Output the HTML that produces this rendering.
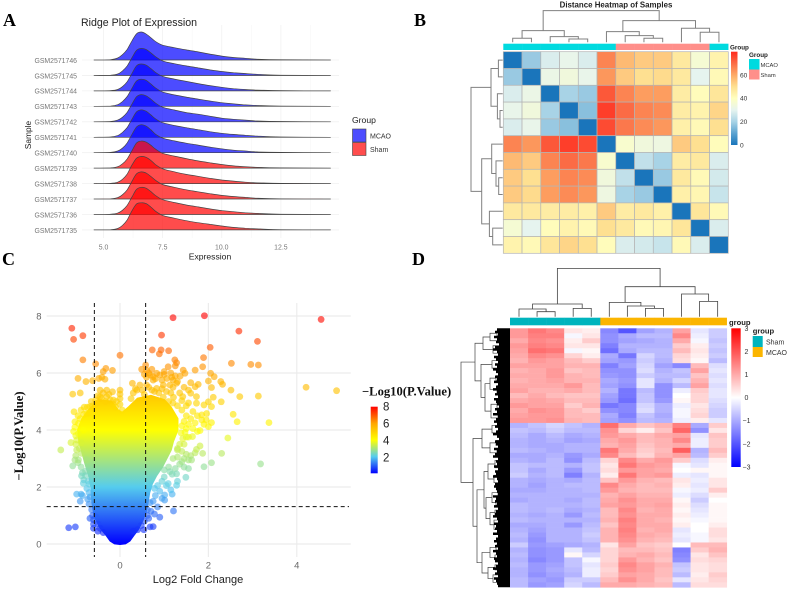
<!DOCTYPE html>
<html lang="en">
<head>
<meta charset="utf-8">
<title>Expression analysis figure</title>
<style>
html,body{margin:0;padding:0;background:#fff;}
svg{display:block;font-family:"Liberation Sans",sans-serif;}
.panel{font-family:"Liberation Serif",serif;font-weight:bold;font-size:18px;fill:#000;}
.serif{font-family:"Liberation Serif",serif;font-weight:bold;}
</style>
</head>
<body>
<svg id="fig" width="790" height="591" viewBox="0 0 790 591" xmlns="http://www.w3.org/2000/svg">
<defs>
<linearGradient id="volcGrad" gradientUnits="userSpaceOnUse" x1="0" x2="0" y1="544" y2="316"></linearGradient>
<linearGradient id="volcBar" x1="0" x2="0" y1="1" y2="0"></linearGradient>
<linearGradient id="distBar" x1="0" x2="0" y1="1" y2="0"></linearGradient>
<linearGradient id="exprBar" x1="0" x2="0" y1="1" y2="0">
<stop offset="0" stop-color="#0000ff"/><stop offset="0.5" stop-color="#ffffff"/><stop offset="1" stop-color="#ff0000"/>
</linearGradient>
</defs>
<rect width="790" height="591" fill="#fff"/>

<text class="panel" x="3" y="26">A</text>
<text class="panel" x="414" y="26">B</text>
<text class="panel" x="2" y="265">C</text>
<text class="panel" x="412" y="265">D</text>

<g id="ridge">
<g id="ridgeGrid"></g>
<g id="ridgeMarks"></g>
<g id="ridgeLabels" font-size="6.9" fill="#777"></g>
<text x="81" y="26" font-size="10.6" fill="#222">Ridge Plot of Expression</text>
<text x="210" y="259.5" font-size="8.6" fill="#222" text-anchor="middle">Expression</text>
<text transform="translate(31,135) rotate(-90)" font-size="8.4" fill="#222" text-anchor="middle">Sample</text>
<text x="352" y="123" font-size="8.6" fill="#222">Group</text>
<rect x="352.5" y="129" width="13.5" height="13" fill="#4d4dff" stroke="#444" stroke-width="0.6"/>
<rect x="352.5" y="142.5" width="13.5" height="13" fill="#ff4d4d" stroke="#444" stroke-width="0.6"/>
<text x="370" y="138.5" font-size="7" fill="#333">MCAO</text>
<text x="370" y="152" font-size="7" fill="#333">Sham</text>
</g>

<g id="dist">
<text x="616" y="7.5" font-size="7.9" font-weight="bold" fill="#222" text-anchor="middle">Distance Heatmap of Samples</text>
<g id="distTopTree" fill="none" stroke="#808080" stroke-width="1"></g>
<g id="distLeftTree" fill="none" stroke="#808080" stroke-width="1"></g>
<g id="distAnno"></g>
<g id="distCells"></g>
<text x="730" y="49.5" font-size="6.3" font-weight="bold" fill="#222">Group</text>
<rect x="731" y="51.7" width="6.5" height="93.3" fill="url(#distBar)"/>
<g id="distBarLabels" font-size="6.6" fill="#333"></g>
<text x="749" y="57" font-size="6.3" font-weight="bold" fill="#222">Group</text>
<rect x="749" y="59" width="10.5" height="10.5" fill="#00dadf"/>
<rect x="749" y="69.5" width="10.5" height="10" fill="#ff8f8a"/>
<text x="760.5" y="67" font-size="5.8" fill="#333">MCAO</text>
<text x="760.5" y="77" font-size="5.8" fill="#333">Sham</text>
</g>

<g id="volc">
<g id="volcGrid"></g>
<g id="volcCloud"></g>
<g id="volcPoints"></g>
<g id="volcRefs" stroke="#111" stroke-width="1" stroke-dasharray="4 3"></g>
<g id="volcLabels" font-size="9.5" fill="#666"></g>
<text x="198" y="583" font-size="11" fill="#222" text-anchor="middle">Log2 Fold Change</text>
<text class="serif" transform="translate(23,436) rotate(-90)" font-size="12.6" fill="#111" text-anchor="middle">−Log10(P.Value)</text>
<text class="serif" x="362" y="395.5" font-size="12.6" fill="#111">−Log10(P.Value)</text>
<rect x="370.7" y="406.7" width="7" height="66.6" fill="url(#volcBar)"/>
<g id="volcBarLabels" font-size="11.5" fill="#222"></g>
</g>

<g id="expr">
<g id="exprTopTree" fill="none" stroke="#444" stroke-width="0.8"></g>
<g id="exprLeftTree" fill="none" stroke="#444" stroke-width="0.7"></g>
<g id="exprComb"></g>
<g id="exprAnno"></g>
<g id="exprCells"></g>
<text x="729" y="325" font-size="7.6" font-weight="bold" fill="#222">group</text>
<rect x="731.3" y="328.3" width="9.4" height="138.7" fill="url(#exprBar)"/>
<g id="exprBarLabels" font-size="7" fill="#333"></g>
<text x="752.7" y="333.5" font-size="7.6" font-weight="bold" fill="#222">group</text>
<rect x="752.7" y="336" width="10" height="11" fill="#00b4bd"/>
<rect x="752.7" y="347" width="10" height="10" fill="#fbb500"/>
<text x="766" y="344.5" font-size="7" fill="#333">Sham</text>
<text x="766" y="355" font-size="7" fill="#333">MCAO</text>
</g>
</svg>

<script>
/* ---------- Ridge plot data ---------- */
const sampleNames = ["GSM2571746","GSM2571745","GSM2571744","GSM2571743","GSM2571742","GSM2571741","GSM2571740","GSM2571739","GSM2571738","GSM2571737","GSM2571736","GSM2571735"];
const sampleGroups = ["MCAO","MCAO","MCAO","MCAO","MCAO","MCAO","MCAO","Sham","Sham","Sham","Sham","Sham"];
const ridgeGridX = [4.6,5.3,5.6,5.8,6,6.2,6.4,6.6,6.8,7,7.2,7.5,8,8.5,9,9.5,10,10.5,11,11.5,12.5,14.6];
const ridgeTicksX = [5,7.5,10,12.5];
const ridgeTickLabels = ["5.0","7.5","10.0","12.5"];
const ridgeDensity = [
[0,.01,.07,.19,.38,.68,.94,1,.93,.8,.66,.53,.44,.36,.29,.21,.14,.09,.06,.03,.01,0],
[0,.01,.05,.16,.34,.63,.9,.97,.93,.81,.67,.52,.42,.34,.27,.2,.14,.1,.07,.04,.01,0],
[0,.01,.05,.15,.33,.62,.9,.96,.92,.8,.66,.52,.42,.34,.26,.19,.13,.08,.05,.03,.01,0],
[0,.01,.06,.17,.35,.64,.91,.97,.93,.8,.66,.51,.41,.33,.26,.19,.13,.09,.05,.03,.01,0],
[0,.01,.06,.16,.34,.63,.9,.97,.93,.81,.67,.52,.42,.33,.27,.2,.13,.09,.06,.03,.01,0],
[0,.01,.06,.17,.35,.64,.91,.98,.93,.8,.66,.52,.42,.34,.27,.2,.14,.1,.07,.04,.01,0],
[0,.01,.06,.16,.35,.65,.92,1,.95,.82,.66,.52,.42,.34,.27,.2,.14,.09,.06,.03,.01,0],
[0,.01,.05,.15,.33,.62,.9,.97,.93,.82,.68,.53,.43,.34,.26,.19,.13,.08,.05,.03,.01,0],
[0,.01,.05,.15,.34,.66,.91,.97,.94,.83,.68,.53,.42,.33,.26,.19,.13,.09,.05,.03,.01,0],
[0,.01,.05,.15,.33,.63,.9,.97,.93,.81,.67,.52,.42,.33,.26,.19,.13,.09,.06,.03,.01,0],
[0,.01,.05,.15,.33,.62,.9,.97,.94,.82,.68,.53,.43,.34,.27,.2,.14,.1,.06,.04,.01,0],
[0,.01,.05,.16,.36,.68,.93,.97,.94,.82,.67,.52,.42,.33,.26,.2,.14,.09,.06,.04,.01,0]
];

/* ---------- Sample distance heatmap data ---------- */
const distValues = [
[0,18,28,31,28,66,57,54,54,47,36,44],
[18,0,32,34,31,63,54,50,51,47,30,42],
[28,32,0,20,18,73,66,62,62,46,41,48],
[31,34,20,0,16,77,70,66,65,46,44,52],
[28,31,18,16,0,75,68,65,63,45,42,50],
[66,63,73,77,75,0,37,34,33,54,50,41],
[57,54,66,70,68,37,0,24,20,46,47,28],
[54,50,62,66,65,34,24,0,18,47,42,27],
[54,51,62,65,63,33,20,18,0,45,43,25],
[47,47,46,46,45,54,46,47,45,0,48,42],
[36,30,41,44,42,50,47,42,43,48,0,28],
[44,42,48,52,50,41,28,27,25,42,28,0]
];
const distAnnotation = ["MCAO","MCAO","MCAO","MCAO","MCAO","MCAO","Sham","Sham","Sham","Sham","Sham","MCAO"];
const distStops = [0,10,20,30,40,50,60,70,80];
const distColors = ["#1a75bb","#5ba3d0","#a8d3e6","#e6f4ef","#ffffc0","#fee091","#fdaa66","#fb6b45","#ff2a1e"];
const distBarTicks = [0,20,40,60];
const distTopMerge = [31.7,[11.7,[4,0,1],[5.7,2,[3.3,3,4]]],[21.7,[10.7,5,[6.7,6,[4,7,8]]],[14,9,[10,10,11]]]];
const distLeftMerge = [31.7,[11.7,[4.3,0,1],[5.3,2,[2.7,3,4]]],[21,[11,5,[6.7,6,[4,7,8]]],[13.3,9,[10,10,11]]]];

/* ---------- Volcano plot data ---------- */
const volcFC = [-1.09,-1.05,-.84,-.84,-.55,0,1.2,1.91,4.55,.94,2.69,3.11,2.04,.73,.93,1.1,.89,1.89,1.24,1.28,2.52,2.96,3.13,1.87,1.09,1.25,.58,.49,.6,.72,1.7,1.43,-.17,-.32,-.38,2.05,2.13,-.95,-.77,-.62,-.48,-.41,-.34,2,2.28,2.32,1.6,1.7,1.77,2.07,2.51,4.21,4.9,3.13,2.71,2.29,2.11,-1.07,-.9,-1.04,-.81,2.56,2.65,3.37,2.44,2.3,3.18,2.07,1.9,1.87,-1.34,-1.11,-1.07,-.87,-.83,-.98,-.88,-.9,-.73,-1.16,-1.01,.75,.54,.9,1.21,1.18,1.01,1.01,1.09,1.28,1.49,1.28,1.13,1.55,1.4,1.62,1.81,1.73,1.64,1.47,1.81,2,2.07,1.96,1.85,1.73,2,2.07,1.9,1.73,1.6,1.42,1.4,1.21,.98,.38,.6,.72,.83,.98,1.13,1.28,.45,.28,.9,.75,1.06,1.17,1.36,1.47,.83,.68,-.45,-.3,-.17,0,0,-.45,-.3,-.53,-.15,-.68,-.75,-.9,-.94,-.83,-.94,-1.02,-.98,-.94,-.87,-.75,-.7,-.78,-.85,1.3,1.45,1.5,1.3,1.15,.95,.85,.78,-.68,-.6,.62,.68];
const volcLogP = [7.57,7.18,7.31,6.46,6.32,6.62,7.94,8.01,7.88,7.33,7.47,7.11,6.9,6.81,6.81,6.78,6.67,6.54,6.46,6.36,6.34,6.3,6.28,6.22,6.22,6.25,6.28,6.13,6.1,6.13,6.1,6.1,6.09,6.16,6.05,5.99,5.87,5.81,5.7,5.73,5.81,5.85,5.78,5.72,5.7,5.6,5.66,5.52,5.6,5.49,5.4,5.5,5.38,5.19,5.17,4.99,5.15,5.26,5.3,4.64,4.8,4.55,4.29,4.26,3.72,3.18,2.81,2.85,2.71,3.18,3.3,3.56,2.74,2.39,2.13,1.75,1.75,1.5,1.57,.57,.6,.61,.5,.94,1.16,1.75,1.72,1.54,2.12,2.06,2.34,2.46,2.54,2.65,2.89,2.95,3.44,3.32,3.77,3.92,3.98,4.12,4.26,4.58,4.53,4.94,4.99,4.82,4.88,5.17,5.29,5.17,5.03,5.15,5.15,5.4,5.58,5.4,5.46,5.58,5.58,5.64,5.58,5.64,5.93,5.87,5.81,5.85,5.89,5.99,5.99,5.93,5.4,5.4,5.34,5.4,5.26,5.17,5.17,4.94,5.05,4.82,4.58,4.4,4.23,3.99,3.87,4.29,3.3,2.95,3.18,2.95,2.1,2.4,1.7,3.3,3,3.75,2.2,1.9,1.6,1.3,1.05,.9,.7,1.0,.6];
const volcEdgeFC = [-.95,-.88,-.82,-.74,-.7,-.65,-.62,-.55,-.5,-.42,-.38,-.33,-.25,-.22,-.15,-.1,-.08,0,0,.05,-1.02,-1,-.98,-1.05,-1,-.92,-.88,-1,-.95,-1.02,-.88,-.85,-.78,-.82,-.72,-.75,-.7,-.68,-.7,-.64,-.62,-.6,-.55,-.5,-.45,-.6,-.5,-.38,.35,.25,.3,.5,.55,.65,.78,.88,.95,1.05,1.15,1.2,1.35,1.45,1.55,.75,.8,.95,1,1.2,1.25,1.3,.6,.65,.55,1,1.15,1.1,1.2,1.3,1.4,1.5,1.55,1.5,1.6,1.45,1.55,1.7,1.75,1.65,1.85,1.4,1.5,1.65,1.75,1.9,1.95,1.38,1.42,1.55,1.35,1.45,1.3,1.4,1.5,1.6,1.7,1.55,1.3,1.2,1.35,1.45,1.25,1.1,1,1.18,1,.95,1.05,.85,.9,.78,.8,.75,.68,.62,.7,.65,.55,.48,.4,.3];
const volcEdgeLogP = [4.5,4.7,4.55,4.8,4.6,5,4.85,5.05,5.2,5.1,5.3,5,5.25,5.05,4.9,4.8,5,5.1,4.9,4.7,4.1,3.8,3.65,3.95,3.5,3.35,3.55,3.1,2.85,2.95,2.7,2.5,2.55,2.25,2.2,1.95,1.8,1.65,1.4,1.2,1,.85,.95,.7,.55,.55,.45,.4,5.45,5.1,5.3,5.4,5.25,5.5,5.35,5.3,5.45,5.35,5.3,5.5,5.3,5.5,5.4,5.75,5.8,5.75,5.95,5.75,5.9,5.7,5.85,6,5.95,6.05,6,5,4.95,4.85,4.7,4.85,4.95,4.5,4.4,4.3,4.2,4.25,4.5,4.65,4.35,4.15,4.05,4.05,3.95,4.2,4.35,3.9,3.7,3.75,3.5,3.5,3.35,3.25,3.15,3.1,3.2,2.95,3.05,3,2.8,2.7,2.65,2.7,2.6,2.45,2.35,2.2,2.05,2.05,1.85,1.95,1.7,1.5,1.45,1.2,1.15,.9,.8,.65,.5,.45];
const volcCloudX = [0,.12,.22,.3,.4,.5,.58,.62,.66,.72,.82,.95,1.05,1.15,1.2,1.3,1.3,1.15,1,.7,.4,.2,.05,-.05,-.2,-.5,-.7,-.85,-.95,-.92,-.85,-.78,-.7,-.65,-.63,-.58,-.46,-.3,-.22,-.12];
const volcCloudY = [0,.02,.12,.3,.5,.8,1.1,1.4,1.8,2.1,2.4,2.7,3,3.3,3.6,4,4.4,4.8,5.05,5.2,5.1,4.8,4.6,4.7,5,5.05,4.7,4.4,4,3.6,3.2,2.8,2.4,2,1.5,1,.6,.3,.12,.02];
const volcStops = [0,2,4,6,8];
const volcColors = ["#0000ff","#55ccee","#ffff00","#ffa500","#ff0000"];
const volcTicksX = [0,2,4];
const volcTicksY = [0,2,4,6,8];
const volcBarTicks = [2,4,6,8];
const volcThresholdFC = [-0.58,0.58];
const volcThresholdP = [1.31];

/* ---------- Expression heatmap data (log2 scale x10, one row per gene band) ---------- */
const exprValues = [
[12,16,14,3,2,-14,-20,-11,-9,11,-3,-6],
[12,15,15,-1,3,-13,-10,-8,-8,14,-2,-6],
[10,14,13,2,6,-13,-11,-10,-9,10,-1,-7],
[12,15,14,3,3,-15,-9,-9,-9,6,2,-6],
[11,17,16,-1,1,-17,-10,-8,-8,8,3,-7],
[10,14,13,5,2,-10,-16,-5,-8,5,2,-6],
[9,12,11,8,6,-11,-12,-6,-9,4,1,-8],
[11,11,11,9,9,-15,-11,-5,-11,-14,8,-4],
[9,10,12,7,8,-13,-13,-4,-9,-7,11,-3],
[10,10,12,9,8,-12,-13,-6,-8,-8,7,-4],
[9,10,11,9,9,-10,-12,-3,-9,-5,9,-3],
[10,10,10,12,8,-11,-13,-3,-13,-8,11,-4],
[11,9,9,10,8,-9,-16,-8,-13,-2,6,-3],
[8,10,8,7,7,-11,-16,-7,-13,0,5,-3],
[10,11,10,8,8,-12,-17,-7,-12,1,5,-4],
[12,11,11,6,9,-16,-14,-5,-9,-2,3,-5],
[10,13,12,8,6,-13,-14,-4,-9,-1,4,-6],
[11,12,12,8,8,-10,-15,-7,-10,-1,5,-6],
[12,12,13,9,8,-11,-13,-8,-9,-2,2,-3],
[-9,-7,-5,-7,-9,17,10,7,9,15,-10,6],
[-7,-8,-6,-8,-8,13,5,2,7,18,-13,3],
[-8,-10,-8,-10,-9,12,10,8,10,11,-3,7],
[-9,-10,-9,-11,-10,10,12,8,9,14,-2,6],
[-9,-10,-10,-9,-9,9,11,7,9,10,-2,6],
[-8,-9,-10,-9,-9,16,10,6,8,19,-9,8],
[-10,-10,-9,-12,-10,14,8,5,9,11,-8,6],
[-9,-10,-8,-13,-8,5,14,10,12,6,-4,2],
[-7,-8,-8,-9,-7,3,16,12,11,-1,-3,1],
[-7,-10,-8,-12,-7,4,12,11,10,0,1,1],
[-6,-9,-8,-15,-9,2,16,11,12,-2,-3,1],
[-9,-10,-9,-10,-8,7,12,9,8,3,-2,3],
[-9,-11,-9,-8,-8,14,10,8,9,2,-3,3],
[-10,-10,-9,-9,-8,12,9,8,8,-1,-2,6],
[-9,-9,-9,-9,-9,9,11,9,9,-2,-4,2],
[-10,-9,-9,-10,-8,10,13,10,10,1,-6,0],
[-8,-9,-9,-9,-8,11,12,10,11,2,-4,1],
[-8,-9,-8,-10,-9,8,14,9,10,1,-3,1],
[-9,-10,-9,-12,-8,8,13,10,10,2,-2,1],
[-8,-9,-9,-9,-9,9,15,10,9,1,-1,1],
[-10,-10,-9,-12,-8,7,14,10,10,2,0,2],
[-9,-11,-9,-9,-7,9,15,9,10,-3,0,4],
[-8,-12,-9,-9,-6,9,14,10,9,-2,-1,4],
[-9,-13,-9,-9,-7,9,13,9,8,-3,-1,3],
[-6,-12,-11,-10,-9,3,11,7,6,0,8,8],
[-9,-13,-12,-3,-8,5,8,8,7,-15,6,9],
[-8,-13,-12,1,-5,5,9,10,8,-14,3,7],
[-9,-14,-12,-7,-1,5,12,9,7,-13,4,5],
[-8,-12,-11,-7,-3,6,14,11,9,-7,3,4],
[-9,-12,-10,-8,-2,5,13,11,8,-6,3,4],
[-9,-13,-11,-9,-2,6,11,10,8,-8,2,6],
[-8,-11,-12,-6,-6,8,13,10,7,-3,3,5],
[-8,-12,-11,-5,-8,10,10,9,8,-8,4,4]
];
const exprAnnotation = ["Sham","Sham","Sham","Sham","Sham","MCAO","MCAO","MCAO","MCAO","MCAO","MCAO","MCAO"];
const exprBarTicks = [3,2,1,0,-1,-2,-3];
const exprLeafDepth = [13,15,12,16,13,14,11,15,17,13,12,16,14,12,15,13,17,14,12,15,13,16,12,14,17,13,15,12,16,14,13,11,15,13,17,12,14,16,13,15,12,14,17,13,11,15,14,12,16,13,15,17,12,14,13,16,12,15,14,17,13,12,15,16,14,13,12,17,14,15,13,16,12,14,15,17,13,12,16,14,15,13,17,12,14,16,13,15,12,17,14,13,16,15,12,14,17,13,15,12,16,14,13,12];
const exprTopMerge = [48.3,[12.7,[7.7,0,[5,1,2]],[8.3,3,4]],[30,[14.3,5,[10.7,6,[8.3,7,8]]],[22.7,9,[15.3,10,11]]]];
const exprLeftMerge = [49,
 [35,
  [27,[20,[13,0,1],2],[17,3,[11,4,5]]],
  [29,[18,6,[12,7,8]],[25,[20,[14,9,10],[13,11,[9,12,13]]],[19,[13,14,[9,15,16]],[12,17,18]]]]],
 [37,
  [28,[18,19,[12,20,21]],[20,[14,22,23],[13,24,25]]],
  [33,
   [26,[22,[15,26,[10,27,28]],[16,29,[11,30,31]]],[24,[18,[12,32,33],[14,34,35]],[20,[15,36,37],[16,38,[12,39,[9,40,[7,41,42]]]]]]],
   [28,[20,[14,43,44],[15,45,46]],[22,[15,47,48],[17,49,[12,50,51]]]]]]];

/* ---------- Helpers ---------- */
const NS = "http://www.w3.org/2000/svg";
const $ = id => document.getElementById(id);
function add(parent, tag, attrs){
  const el = document.createElementNS(NS, tag);
  for (const k in attrs) el.setAttribute(k, attrs[k]);
  parent.appendChild(el);
  return el;
}
function hex(c){ return [parseInt(c.slice(1,3),16),parseInt(c.slice(3,5),16),parseInt(c.slice(5,7),16)]; }
function ramp(stops, colors, v){
  if (v <= stops[0]) return colors[0];
  for (let i = 1; i < stops.length; i++){
    if (v <= stops[i]){
      const t = (v - stops[i-1]) / (stops[i] - stops[i-1]);
      const a = hex(colors[i-1]), b = hex(colors[i]);
      return "rgb(" + a.map((x,j) => Math.round(x + (b[j]-x)*t)).join(",") + ")";
    }
  }
  return colors[colors.length-1];
}
function gradient(id, stops, colors){
  const g = $(id), lo = stops[0], hi = stops[stops.length-1];
  stops.forEach((s,i) => add(g, "stop", {offset:(s-lo)/(hi-lo), "stop-color":colors[i]}));
}
function smoothPath(xs, ys){
  let d = "M" + xs[0].toFixed(1) + " " + ys[0].toFixed(1);
  for (let i = 0; i < xs.length - 1; i++){
    const i0 = Math.max(i-1,0), i3 = Math.min(i+2,xs.length-1);
    const c1x = xs[i] + (xs[i+1]-xs[i0])/6, c1y = ys[i] + (ys[i+1]-ys[i0])/6;
    const c2x = xs[i+1] - (xs[i3]-xs[i])/6, c2y = ys[i+1] - (ys[i3]-ys[i])/6;
    d += "C" + c1x.toFixed(1) + " " + c1y.toFixed(1) + " " + c2x.toFixed(1) + " " + c2y.toFixed(1) + " " + xs[i+1].toFixed(1) + " " + ys[i+1].toFixed(1);
  }
  return d + "Z";
}
function drawTree(node, g, pos, ht, horizontalRoot, name){
  if (typeof node === "number") return {p:pos(node), h:0};
  const l = drawTree(node[1], g, pos, ht, horizontalRoot, name);
  const r = drawTree(node[2], g, pos, ht, horizontalRoot, name);
  const d = horizontalRoot
    ? "M"+l.p+" "+ht(l.h)+"V"+ht(node[0])+"H"+r.p+"V"+ht(r.h)
    : "M"+ht(l.h)+" "+l.p+"H"+ht(node[0])+"V"+r.p+"H"+ht(r.h);
  const path = add(g, "path", {d:d});
  
  
  return {p:(l.p+r.p)/2, h:node[0]};
}

/* ---------- A: Ridge plot ---------- */
const rx = v => 103.5 + (v - 5) * 23.65;
const ry = i => 60 + i * 15.45;
const ridgeH = 28;
[6.25,8.75,11.25,13.75].forEach(v => {
  const line = add($("ridgeGrid"), "line", {x1:rx(v),x2:rx(v),y1:25,y2:238,stroke:"#f7f7f7","stroke-width":0.6});
  
  
});
ridgeTicksX.forEach((v,i) => {
  const line = add($("ridgeGrid"), "line", {x1:rx(v),x2:rx(v),y1:25,y2:238,stroke:"#f1f1f1","stroke-width":0.8});
  
  
  const t = add($("ridgeLabels"), "text", {x:rx(v),y:249.5,"text-anchor":"middle"});
  t.textContent = ridgeTickLabels[i];
  
  
});
sampleNames.forEach((name,i) => {
  const y = ry(i);
  const line = add($("ridgeGrid"), "line", {x1:82,x2:339,y1:y,y2:y,stroke:"#f1f1f1","stroke-width":0.8});
  
  
  const t = add($("ridgeLabels"), "text", {x:77,y:y+2.8,"text-anchor":"end"});
  t.textContent = name;
  
  
  const xs = ridgeGridX.map(rx);
  const ys = ridgeDensity[i].map(d => y - d*ridgeH);
  const fill = sampleGroups[i] === "MCAO" ? "#0000ff" : "#ff0000";
  const area = add($("ridgeMarks"), "path", {d:smoothPath(xs,ys),fill:fill,"fill-opacity":0.7,stroke:"#444","stroke-width":0.7,"stroke-linejoin":"round"});
  
  
});

/* ---------- B: Distance heatmap ---------- */
const bX = i => 503.3 + i * 18.75;
const bY = i => 51.7 + i * 16.8;
gradient("distBar", distStops, distColors);
distValues.forEach((row,r) => row.forEach((v,c) => {
  const cell = add($("distCells"), "rect", {x:bX(c),y:bY(r),width:18.75,height:16.8,fill:ramp(distStops,distColors,v),stroke:"#b4b4b4","stroke-width":0.7});
  
  
}));
distAnnotation.forEach((g,c) => {
  const a = add($("distAnno"), "rect", {x:bX(c),y:43.7,width:18.9,height:6.3,fill:g === "MCAO" ? "#00dadf" : "#ff8f8a"});
  
  
});
distBarTicks.forEach(v => {
  const t = add($("distBarLabels"), "text", {x:740,y:145 - v/80*93.3 + 2.3});
  t.textContent = v;
  
  
});
drawTree(distTopMerge, $("distTopTree"), i => bX(i)+9.4, h => 42.3 - h, true, 'distance-column-branch');
drawTree(distLeftMerge, $("distLeftTree"), i => bY(i)+8.4, h => 502.7 - h, false, 'distance-row-branch');

/* ---------- C: Volcano plot ---------- */
const vx = v => 120 + v * 44.2;
const vy = v => 544 - v * 28.5;
const vColor = v => ramp(volcStops, volcColors, v);
gradient("volcGrad", volcStops, volcColors);
gradient("volcBar", volcStops, volcColors);
volcTicksX.forEach(v => {
  const g = add($("volcGrid"), "line", {x1:vx(v),x2:vx(v),y1:303,y2:557,stroke:"#ececec","stroke-width":1.2});
  
  
  const t = add($("volcLabels"), "text", {x:vx(v),y:568.5,"text-anchor":"middle"});
  t.textContent = v;
  
  
});
volcTicksY.forEach(v => {
  const g = add($("volcGrid"), "line", {x1:46.7,x2:350.7,y1:vy(v),y2:vy(v),stroke:"#ececec","stroke-width":1.2});
  
  
  const t = add($("volcLabels"), "text", {x:41.5,y:vy(v)+3.5,"text-anchor":"end"});
  t.textContent = v;
  
  
});
const cloudPts = volcCloudX.map((x,i) => vx(x).toFixed(1) + "," + vy(volcCloudY[i]).toFixed(1)).join(" ");
const cloud = add($("volcCloud"), "polygon", {points:cloudPts,fill:"url(#volcGrad)",stroke:"url(#volcGrad)","stroke-width":2,"stroke-linejoin":"round"});


volcEdgeFC.forEach((x,i) => {
  const c = add($("volcPoints"), "circle", {cx:vx(x),cy:vy(volcEdgeLogP[i]),r:3.4,fill:vColor(volcEdgeLogP[i]),"fill-opacity":0.62});
  
  
});
volcFC.forEach((x,i) => {
  const c = add($("volcPoints"), "circle", {cx:vx(x),cy:vy(volcLogP[i]),r:3.4,fill:vColor(volcLogP[i]),"fill-opacity":0.62});
  
  
});
volcThresholdFC.forEach(v => {
  const l = add($("volcRefs"), "line", {x1:vx(v),x2:vx(v),y1:303,y2:557});
  
  
});
volcThresholdP.forEach(v => {
  const l = add($("volcRefs"), "line", {x1:46.7,x2:349,y1:vy(v),y2:vy(v)});
  
  
});
volcBarTicks.forEach(v => {
  const t = add($("volcBarLabels"), "text", {x:383,y:473.3 - (v-0.15)/7.85*66.6 + 4});
  t.textContent = v;
  
  
});

/* ---------- D: Expression heatmap ---------- */
const dX = i => 510 + i * 18.06;
const rowH = 259 / exprValues.length;
const dY = i => 328.3 + i * rowH;
const leafY = i => 328.3 + i * 259 / exprLeafDepth.length;
const exprColor = v => ramp([-3,0,3], ["#0000ff","#ffffff","#ff0000"], v);
exprValues.forEach((row,r) => row.forEach((v,c) => {
  const cell = add($("exprCells"), "rect", {x:dX(c),y:dY(r),width:18.4,height:rowH+0.3,fill:exprColor(v/10)});
  
  
}));
exprAnnotation.forEach((g,c) => {
  const a = add($("exprAnno"), "rect", {x:dX(c),y:317.7,width:18.3,height:7.6,fill:g === "Sham" ? "#00b4bd" : "#fbb500"});
  
  
});
exprBarTicks.forEach(v => {
  const t = add($("exprBarLabels"), "text", {x:v < 0 ? 742.5 : 744.5,y:397.7 - v*23.1 + 2.4});
  t.textContent = v < 0 ? "−" + (-v) : v;
  
  
});
drawTree(exprTopMerge, $("exprTopTree"), i => dX(i)+9, h => 316.7 - h, true, 'expression-column-branch');
drawTree(exprLeftMerge, $("exprLeftTree"), i => dY(i)+rowH/2, h => 510 - h, false, 'expression-row-branch');
const combLeft = exprLeafDepth.map((d,i) => (510-d) + "," + leafY(i).toFixed(1) + " " + (510-d) + "," + leafY(i+1).toFixed(1));
const comb = add($("exprComb"), "polygon", {points:"510,328.3 " + combLeft.join(" ") + " 510,587.3",fill:"#000"});


</script>
</body>
</html>
